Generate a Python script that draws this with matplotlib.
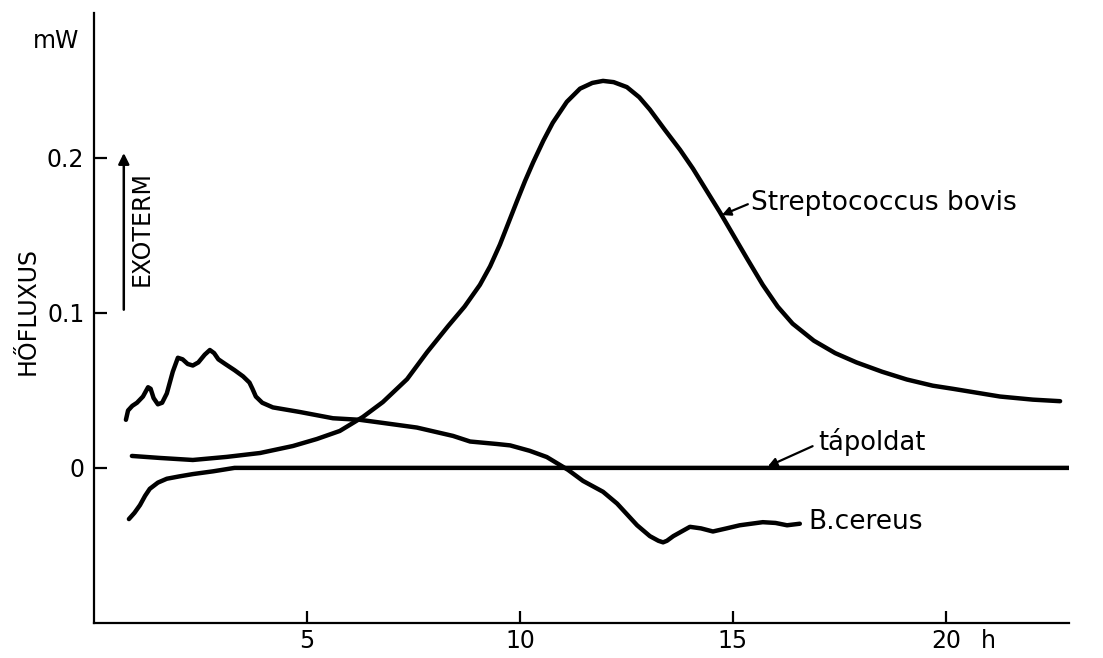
import matplotlib
matplotlib.use("Agg")
import matplotlib.pyplot as plt

plt.rcParams['font.family'] = ['DejaVu Sans']

# Streptococcus bovis
strep_t = [0.89, 1.55, 2.32, 3.12, 3.90, 4.67, 5.23, 5.77, 6.31, 6.78, 7.35, 7.82,
           8.31, 8.70, 9.06, 9.30, 9.53, 9.73, 9.93, 10.12, 10.31, 10.55, 10.77,
           11.10, 11.41, 11.70, 11.95, 12.20, 12.51, 12.80, 13.05, 13.40, 13.76,
           14.06, 14.69, 15.33, 15.70, 16.05, 16.40, 16.90, 17.40, 17.90, 18.50,
           19.08, 19.69, 20.16, 21.27, 22.04, 22.68]
strep_q = [0.0077, 0.0064, 0.0051, 0.0071, 0.0096, 0.0141, 0.0186, 0.0238, 0.0328,
           0.0424, 0.0572, 0.0746, 0.0913, 0.104, 0.118, 0.130, 0.144, 0.158, 0.172,
           0.185, 0.197, 0.211, 0.2225, 0.236, 0.2445, 0.2482, 0.2495, 0.2487, 0.2455,
           0.239, 0.231, 0.218, 0.205, 0.193, 0.165, 0.135, 0.118, 0.104, 0.093,
           0.082, 0.074, 0.068, 0.062, 0.057, 0.053, 0.051, 0.046, 0.044, 0.043]

# B. cereus
cer_t = [0.75, 0.80, 0.90, 1.01, 1.15, 1.27, 1.33, 1.40, 1.50, 1.60, 1.71, 1.85, 1.97,
         2.08, 2.20, 2.32, 2.45, 2.60, 2.72, 2.82, 2.92, 3.08, 3.30, 3.50, 3.65, 3.72,
         3.80, 3.95, 4.20, 4.84, 5.61, 6.24, 6.78, 7.58, 8.43, 8.83, 9.46, 9.77, 10.23,
         10.63, 11.13, 11.48, 11.95, 12.28, 12.75, 13.05, 13.25, 13.36, 13.45, 13.60,
         13.99, 14.25, 14.53, 14.85, 15.16, 15.70, 16.00, 16.27, 16.57]
cer_q = [0.031, 0.037, 0.040, 0.042, 0.046, 0.052, 0.051, 0.045, 0.041, 0.042, 0.048,
         0.062, 0.071, 0.070, 0.067, 0.066, 0.068, 0.073, 0.076, 0.074, 0.070, 0.067,
         0.063, 0.059, 0.055, 0.051, 0.046, 0.042, 0.039, 0.036, 0.032, 0.031, 0.029,
         0.026, 0.0206, 0.017, 0.0154, 0.0145, 0.011, 0.007, -0.0013, -0.0084, -0.0154,
         -0.023, -0.037, -0.044, -0.047, -0.048, -0.047, -0.044, -0.038, -0.039,
         -0.041, -0.039, -0.037, -0.035, -0.0355, -0.037, -0.036]

# tapoldat (nutrient medium only)
tap_t = [0.82, 0.95, 1.08, 1.20, 1.31, 1.50, 1.71, 2.00, 2.32, 2.80, 3.30, 22.9]
tap_q = [-0.033, -0.029, -0.024, -0.018, -0.0135, -0.0095, -0.007, -0.0055, -0.004,
         -0.0022, 0.0, 0.0]

x_ticks = [5, 10, 15, 20]
y_ticks = [0, 0.1, 0.2]
y_ticklabels = ['0', '0.1', '0.2']

fig = plt.figure(figsize=(11.03, 6.58), dpi=100)
ax = fig.add_axes([0.0852, 0.0532, 0.8844, 0.9264])

line_kw = dict(color='black', lw=3.2, solid_capstyle='round', solid_joinstyle='round')
ax.plot(strep_t, strep_q, **line_kw)
ax.plot(cer_t, cer_q, **line_kw)
ax.plot(tap_t, tap_q, **line_kw)

ax.set_xlim(0, 22.9)
ax.set_ylim(-0.1, 0.293)
ax.spines['top'].set_visible(False)
ax.spines['right'].set_visible(False)
ax.spines['left'].set_linewidth(1.6)
ax.spines['bottom'].set_linewidth(1.6)

ax.set_xticks(x_ticks)
ax.set_yticks(y_ticks)
ax.set_yticklabels(y_ticklabels)
ax.tick_params(direction='in', length=9, width=1.6, labelsize=17)
ax.tick_params(axis='x', pad=4)
ax.tick_params(axis='y', pad=7)

# unit labels
ax.text(-0.89, 0.275, 'mW', fontsize=17, ha='center', va='center', clip_on=False)
ax.annotate('h', xy=(21.0, -0.1), xytext=(0, -4), textcoords='offset points',
            fontsize=17, ha='center', va='top', annotation_clip=False)
ax.text(-1.55, 0.101, 'HŐFLUXUS', fontsize=17, rotation=90,
        ha='center', va='center', clip_on=False)

# exotherm arrow
ax.annotate('', xy=(0.70, 0.203), xytext=(0.70, 0.102),
            arrowprops=dict(arrowstyle='-|>', color='black', lw=1.8,
                            mutation_scale=16, shrinkA=0, shrinkB=0))
ax.text(1.13, 0.154, 'EXOTERM', fontsize=17, rotation=90, ha='center', va='center')

# curve labels
arr = dict(arrowstyle='-|>', color='black', lw=1.6, mutation_scale=13,
           shrinkA=0, shrinkB=0)
ax.annotate('', xy=(14.74, 0.163), xytext=(15.35, 0.170), arrowprops=arr)
ax.text(15.42, 0.171, 'Streptococcus bovis', fontsize=19, ha='left', va='center')

ax.annotate('', xy=(15.82, 0.001), xytext=(16.87, 0.014), arrowprops=arr)
ax.text(17.0, 0.0167, 'tápoldat', fontsize=18.5, ha='left', va='center')

ax.text(16.76, -0.035, 'B.cereus', fontsize=19, ha='left', va='center')

fig.savefig('out.png', dpi=100)
